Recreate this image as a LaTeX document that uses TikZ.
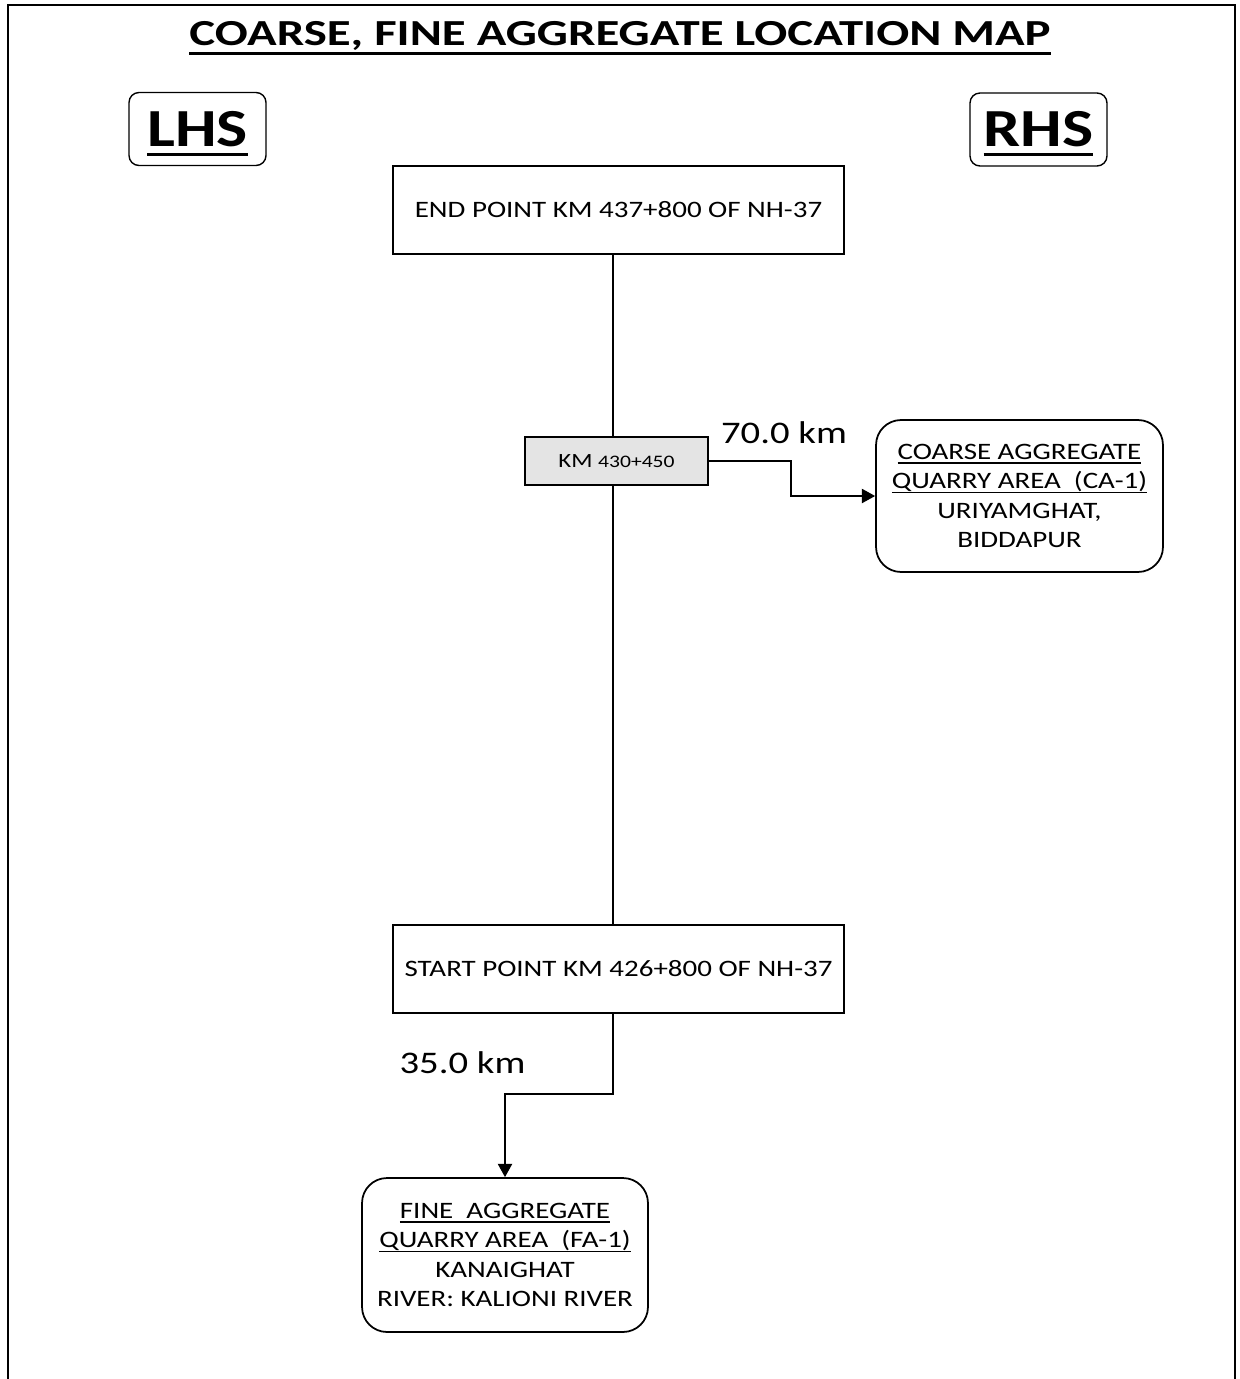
\documentclass[tikz,border=0pt]{standalone}
\usepackage{fontspec}
\setmainfont{Carlito}[FakeStretch=1.23]
\newfontfamily\titlefont{Carlito}[FakeStretch=1.33]
\usepackage{tikz}
\usetikzlibrary{calc}
\usetikzlibrary{positioning}
\usetikzlibrary{arrows.meta}
\definecolor{kmgray}{RGB}{228,228,228}
\newcommand{\ulbar}[3]{\setbox0=\hbox{#3}\rlap{\smash{\rule[-#1]{\wd0}{#2}}}\box0}

\begin{document}
\begin{tikzpicture}[x=0.02cm, y=-0.02cm, >={Triangle[length=7.5pt,width=8pt]},
box/.style={draw, line width=1pt, inner sep=0pt, minimum width=9.02cm, minimum height=1.76cm, font=\fontsize{13.4pt}{16.8pt}\selectfont},
rbox/.style={draw, line width=1pt, rounded corners=0.5cm, align=center, inner sep=0pt, font=\fontsize{13.4pt}{16.8pt}\selectfont},
side/.style={draw, line width=0.8pt, rounded corners=0.2cm, minimum width=2.74cm, minimum height=1.46cm, inner sep=0pt, font=\fontsize{30.5pt}{36pt}\selectfont\bfseries},
dist/.style={anchor=base, font=\fontsize{17.9pt}{21pt}\selectfont}]

\useasboundingbox (0,0) rectangle (1240,1379);
\draw[line width=1.4pt] (8,1379) -- (8,5) -- (1235,5) -- (1235,1379);

\node[anchor=base, font=\titlefont\fontsize{20.9pt}{24pt}\selectfont\bfseries] (title) at (620,45) {\ulbar{5.6pt}{1.9pt}{COARSE, FINE AGGREGATE LOCATION MAP}};

\node[side] (lhs) at (197.5,129) {\ulbar{5.4pt}{1.7pt}{LHS}};
\node[side] (rhs) at (1038.5,129.5) {\ulbar{5.4pt}{1.7pt}{RHS}};

\node[box] (endpt) at (618.5,210) {END POINT KM 437+800 OF NH-37};
\node[box, minimum width=3.66cm, minimum height=0.96cm, fill=kmgray, font=\fontsize{11.5pt}{13pt}\selectfont] (km) at (616.5,461) {KM {\fontsize{10pt}{12pt}\selectfont 430+450}};
\node[box] (startpt) at (618.5,969) {START POINT KM 426+800 OF NH-37};

\node[rbox, minimum width=5.74cm, minimum height=3.04cm] (ca) at (1019.5,496) {\ulbar{2.4pt}{0.8pt}{COARSE AGGREGATE}\\ \ulbar{2.4pt}{0.8pt}{QUARRY AREA\ \ (CA-1)}\\ URIYAMGHAT,\\ BIDDAPUR};
\node[rbox, minimum width=5.72cm, minimum height=3.08cm] (fa) at (505,1255) {\ulbar{2.4pt}{0.8pt}{FINE\ \ AGGREGATE}\\ \ulbar{2.4pt}{0.8pt}{QUARRY AREA\ \ (FA-1)}\\ KANAIGHAT\\ RIVER: KALIONI RIVER};

\coordinate (road) at (613,0);
\coordinate (bendca) at (791,0);
\coordinate (bendfa) at (0,1094);

\draw[line width=1pt] (endpt.south -| road) -- (km.north -| road);
\draw[line width=1pt] (km.south -| road) -- (startpt.north -| road);
\draw[->, line width=1pt] (km.east) -| (bendca |- ca.west) -- (ca.west);
\draw[->, line width=1pt] (startpt.south -| road) -- (road |- bendfa) -| (fa.north);

\node[dist] (cadist) at (784,443) {70.0 km};
\node[dist] (fadist) at (462.5,1073) {35.0 km};

\end{tikzpicture}
\end{document}
